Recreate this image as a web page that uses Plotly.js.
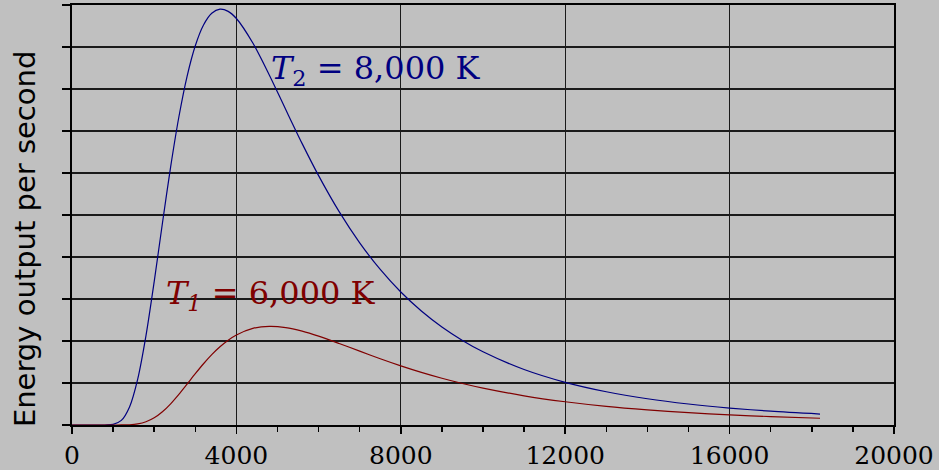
<!DOCTYPE html>
<html>
<head>
<meta charset="utf-8">
<script src="https://cdn.plot.ly/plotly-3.0.1.min.js"></script>
<style>html,body{margin:0;padding:0;background:#c0c0c0;}#chart{width:939px;height:470px;}</style>
</head>
<body>
<div id="chart"></div>
<script>
// Wavelength (x) values
const wavelengths = [0, 500, 800, 1000, 1200, 1400, 1600, 1800, 2000, 2200, 2400, 2600, 2800, 3000, 3200, 3400, 3600, 3800, 4000, 4400, 4800, 5200, 5600, 6000, 6500, 7000, 7500, 8000, 8500, 9000, 9500, 10000, 11000, 12000, 13000, 14000, 15000, 16000, 17000, 18200];
// Energy output for T2 = 8,000 K
const energyT2 = [0, 0, 0.0005, 0.014, 0.109, 0.431, 1.100, 2.129, 3.415, 4.803, 6.146, 7.333, 8.303, 9.031, 9.524, 9.803, 9.900, 9.848, 9.678, 9.094, 8.333, 7.511, 6.699, 5.937, 5.079, 4.337, 3.703, 3.166, 2.714, 2.334, 2.014, 1.743, 1.321, 1.016, 0.792, 0.625, 0.500, 0.404, 0.329, 0.261];
// Energy output for T1 = 6,000 K
const energyT1 = [0, 0, 0, 0, 0.0007, 0.006, 0.026, 0.076, 0.170, 0.315, 0.505, 0.730, 0.974, 1.222, 1.458, 1.674, 1.862, 2.019, 2.143, 2.299, 2.349, 2.320, 2.235, 2.116, 1.941, 1.758, 1.578, 1.409, 1.254, 1.114, 0.989, 0.879, 0.695, 0.554, 0.444, 0.360, 0.293, 0.241, 0.200, 0.161];
const xTicks = [0, 4000, 8000, 12000, 16000, 20000];
const xTickLabels = ['0', '4000', '8000', '12000', '16000', '20000'];
const yTicks = [0, 1, 2, 3, 4, 5, 6, 7, 8, 9, 10];

const traces = [
  {x: wavelengths, y: energyT2, mode: 'lines', line: {color: '#000080', width: 1.2, shape: 'spline', smoothing: 0.8}, hoverinfo: 'skip'},
  {x: wavelengths, y: energyT1, mode: 'lines', line: {color: '#800000', width: 1.2, shape: 'spline', smoothing: 0.8}, hoverinfo: 'skip'}
];

const layout = {
  width: 939, height: 470,
  margin: {l: 72, r: 45, t: 5, b: 45},
  paper_bgcolor: '#c0c0c0', plot_bgcolor: '#c0c0c0',
  showlegend: false,
  xaxis: {
    range: [0, 20000], tickvals: xTicks, ticktext: xTickLabels,
    ticks: 'outside', ticklen: 7, tickwidth: 1.5, tickcolor: '#000',
    showgrid: true, gridcolor: '#1a1a1a', gridwidth: 1.3,
    showline: true, linecolor: '#000', linewidth: 2, mirror: true,
    zeroline: false,
    tickfont: {family: 'DejaVu Serif', size: 25, color: '#000'},
    minor: {dtick: 1000, tick0: 0, ticks: 'outside', ticklen: 5, tickwidth: 1.5, tickcolor: '#000', showgrid: false}
  },
  yaxis: {
    range: [0, 10], tickvals: yTicks, showticklabels: false,
    ticks: 'outside', ticklen: 8, tickwidth: 1.5, tickcolor: '#000',
    showgrid: true, gridcolor: '#1a1a1a', gridwidth: 1.3,
    showline: true, linecolor: '#000', linewidth: 2, mirror: true,
    zeroline: false
  },
  annotations: [
    {text: 'Energy output per second', xref: 'paper', yref: 'paper', x: -0.057, y: 0.443, textangle: -90,
     showarrow: false, xanchor: 'center', yanchor: 'middle', font: {family: 'DejaVu Sans', size: 29, color: '#000'}},
    {text: '<i>T</i><sub>2</sub> = 8,000 K', xref: 'x', yref: 'y', x: 4800, y: 8.45, showarrow: false,
     xanchor: 'left', yanchor: 'middle', font: {family: 'DejaVu Serif', size: 32, color: '#000080'}},
    {text: '<i>T</i><sub><i>1</i></sub> = 6,000 K', xref: 'x', yref: 'y', x: 2230, y: 3.1, showarrow: false,
     xanchor: 'left', yanchor: 'middle', font: {family: 'DejaVu Serif', size: 32, color: '#800000'}}
  ]
};

Plotly.newPlot('chart', traces, layout, {displayModeBar: false, staticPlot: true});
</script>
</body>
</html>
